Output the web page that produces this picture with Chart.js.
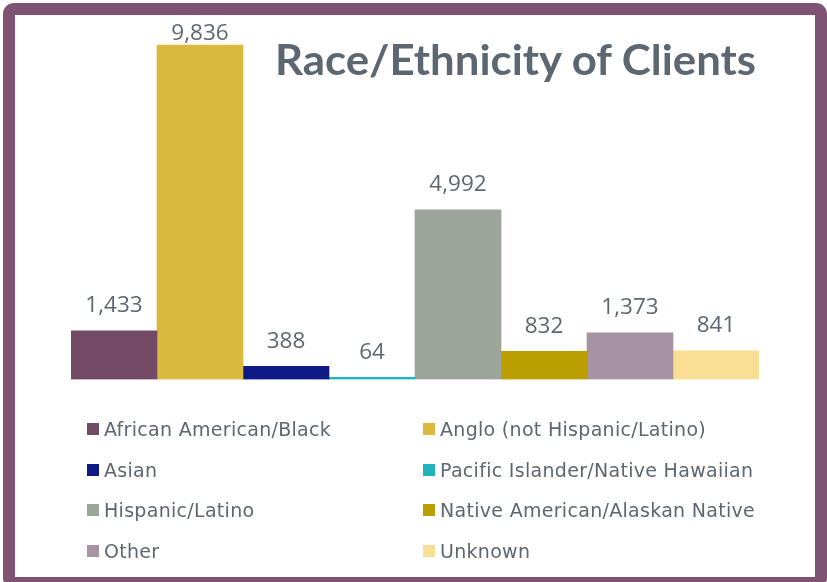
<!DOCTYPE html>
<html>
<head>
<meta charset="utf-8">
<script src="https://cdn.jsdelivr.net/npm/chart.js@4"></script>
<style>
html,body{margin:0;padding:0;background:#fff;width:827px;height:582px;overflow:hidden;}
#frame{position:absolute;left:3px;top:3px;width:800px;height:562px;border:12px solid #7f5373;border-radius:11px;background:#fff;}
#c{position:absolute;left:0;top:0;}
#title{position:absolute;white-space:nowrap;font-family:Lato,"Open Sans",sans-serif;font-weight:bold;color:#5d6771;transform-origin:0 0;}
.lg{position:absolute;white-space:nowrap;font-family:"DejaVu Sans",sans-serif;color:#5d6771;display:flex;align-items:center;letter-spacing:0.3px;}
.lg i{display:inline-block;width:12px;height:12px;margin-right:5px;}
</style>
</head>
<body>
<div id="frame"></div>
<canvas id="c" width="827" height="582"></canvas>
<div id="title">Race/Ethnicity of Clients</div>
<div id="legend"></div>
<script>
const chartTitle = 'Race/Ethnicity of Clients';
const categories = [
  'African American/Black',
  'Anglo (not Hispanic/Latino)',
  'Asian',
  'Pacific Islander/Native Hawaiian',
  'Hispanic/Latino',
  'Native American/Alaskan Native',
  'Other',
  'Unknown'
];
const clientCounts = [1433, 9836, 388, 64, 4992, 832, 1373, 841];
const seriesColors = ['#734a66', '#dbb93e', '#0e1a85', '#1fb3bc', '#9ca59a', '#bb9f00', '#a893a2', '#f8df94'];
const groupLabels = ['Clients'];

const textColor = '#5d6771';

const valueLabels = {
  id: 'valueLabels',
  afterDatasetsDraw(chart) {
    const ctx = chart.ctx;
    ctx.save();
    ctx.font = '22.5px "Open Sans", sans-serif';
    ctx.fillStyle = textColor;
    ctx.textAlign = 'center';
    ctx.textBaseline = 'alphabetic';
    chart.data.datasets.forEach((ds, i) => {
      const el = chart.getDatasetMeta(i).data[0];
      const v = ds.data[0];
      const y = Math.max(40, el.y - 18.5);
      ctx.fillText(v.toLocaleString('en-US'), el.x, y);
    });
    ctx.restore();
  }
};

const chart = new Chart(document.getElementById('c'), {
  type: 'bar',
  data: {
    labels: groupLabels,
    datasets: categories.map((c, i) => ({
      label: c,
      data: [clientCounts[i]],
      backgroundColor: seriesColors[i],
      borderWidth: 0,
      categoryPercentage: 1,
      barPercentage: 1
    }))
  },
  options: {
    responsive: false,
    animation: false,
    layout: { padding: { left: 71, right: 68, top: 39.5, bottom: 202.5 } },
    scales: {
      x: { display: false },
      y: { display: false, min: 0, max: 10000 }
    },
    plugins: {
      legend: { display: false },
      tooltip: { enabled: false },
      title: { display: false }
    }
  },
  plugins: [valueLabels]
});

// HTML legend built from the chart's datasets
const legendEl = document.getElementById('legend');
chart.data.datasets.forEach((ds, i) => {
  const col = i % 2, row = Math.floor(i / 2);
  const d = document.createElement('div');
  d.className = 'lg';
  d.style.fontSize = '19px';
  d.style.left = (col ? 423 : 87) + 'px';
  d.style.top = (429 + row * 40.7 - 12) + 'px';
  d.style.height = '24px';
  d.innerHTML = '<i style="background:' + ds.backgroundColor + '"></i><span></span>';
  d.querySelector('span').textContent = ds.label;
  legendEl.appendChild(d);
});

// Title: fit to target box (left 275, right 758, baseline 75)
(function () {
  const t = document.getElementById('title');
  t.textContent = chartTitle;
  const F = 42;
  const font = 'bold ' + F + 'px Lato, "Open Sans", sans-serif';
  const m = document.createElement('canvas').getContext('2d');
  m.font = font;
  const mt = m.measureText(chartTitle);
  const asc = mt.fontBoundingBoxAscent, desc = mt.fontBoundingBoxDescent;
  t.style.fontSize = F + 'px';
  t.style.lineHeight = F + 'px';
  const baselineInBox = (F - (asc + desc)) / 2 + asc;
  const sx = 483 / mt.width;
  t.style.left = '275px';
  t.style.top = (75 - baselineInBox) + 'px';
  t.style.transform = 'scaleX(' + sx + ')';
})();
</script>
</body>
</html>
